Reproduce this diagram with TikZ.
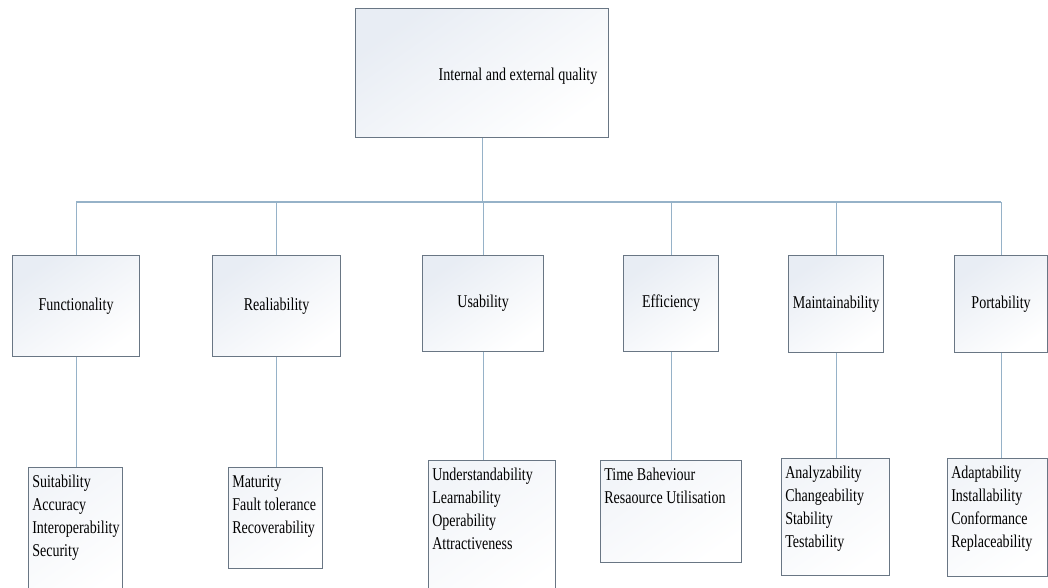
\documentclass[tikz,border=0pt]{standalone}
\usepackage{fontspec}
\setmainfont[FakeStretch=0.78]{Liberation Serif}
\usetikzlibrary{calc}
\definecolor{conn}{RGB}{150,178,200}
\definecolor{edgec}{RGB}{105,118,132}
\definecolor{shadec}{RGB}{226,232,241}
\begin{document}
\begin{tikzpicture}[x=0.75pt,y=-0.75pt,
  every node/.style={font=\fontsize{13.5}{17.25}\selectfont},
  sz/.style 2 args={minimum width=#1*0.75pt, minimum height=#2*0.75pt},
  box/.style={draw=edgec, line width=0.9pt, top color=shadec!80, bottom color=white, shading angle=35, inner sep=0pt, anchor=north west},
  subbox/.style={draw=edgec, line width=0.9pt, top color=shadec!45, bottom color=white, shading angle=35, inner sep=0pt, anchor=north west},
  subtext/.style={anchor=north west, align=left, inner sep=0pt},
  link/.style={draw=conn, line width=0.9pt}]
\useasboundingbox (0,0) rectangle (1048,588);
\fill[white] (0,0) rectangle (1048,588);

% top
\node[box, sz={253}{129}] (top) at (355,8) {};
\node (toptext) at ($(top.north west)+(163,68)$) {Internal and external quality};

% middle level
\node[box, sz={127}{101}] (F) at (12,255) {Functionality};
\node[box, sz={128}{101}] (R) at (212,255) {Realiability};
\node[box, sz={121}{96}] (U) at (422,255) {Usability};
\node[box, sz={95}{96}] (E) at (623,255) {Efficiency};
\node[box, sz={95}{97}] (M) at (788,255) {Maintainability};
\node[box, sz={93}{97}] (P) at (954,255) {Portability};

% bottom level
\node[subbox, sz={94}{133}] (Fs) at (28,467) {};
\node[subbox, sz={94}{101}] (Rs) at (228,467) {};
\node[subbox, sz={127}{140}] (Us) at (428,460) {};
\node[subbox, sz={141}{102}] (Es) at (600,460) {};
\node[subbox, sz={108}{117}] (Ms) at (781,458) {};
\node[subbox, sz={100}{118}] (Ps) at (947,458) {};

\node[subtext] (Ft) at ($(Fs.north west)+(4,8)$) {Suitability\\Accuracy\\Interoperability\\Security};
\node[subtext] (Rt) at ($(Rs.north west)+(4,8)$) {Maturity\\Fault tolerance\\Recoverability};
\node[subtext] (Ut) at ($(Us.north west)+(4,8)$) {Understandability\\Learnability\\Operability\\Attractiveness};
\node[subtext] (Et) at ($(Es.north west)+(4,8)$) {Time Baheviour\\Resaource Utilisation};
\node[subtext] (Mt) at ($(Ms.north west)+(4,8)$) {Analyzability\\Changeability\\Stability\\Testability};
\node[subtext] (Pt) at ($(Ps.north west)+(4,8)$) {Adaptability\\Installability\\Conformance\\Replaceability};

% connectors
\coordinate (bar) at (481.5,202);
\draw[link] (top.south) -- (top.south |- bar);
\draw[link] (F.north |- bar) -- (P.north |- bar);
\foreach \X in {F,R,U,E,M,P}{
  \draw[link] (\X.north) -- (\X.north |- bar);
  \draw[link] (\X.south) -- (\X.south |- \X s.north);
}
\end{tikzpicture}
\end{document}
